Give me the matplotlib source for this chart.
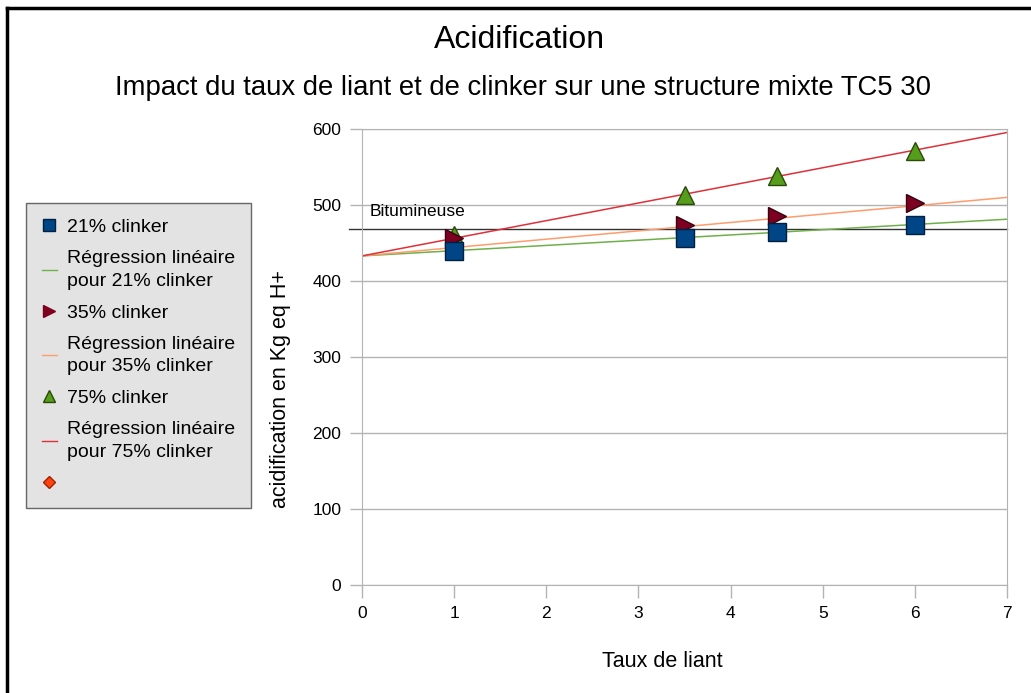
import numpy as np
import matplotlib.pyplot as plt
from matplotlib.lines import Line2D

plt.rcParams['font.family'] = ['Liberation Sans', 'DejaVu Sans']

# donnees
taux_liant = [1, 3.5, 4.5, 6]
clinker_21 = [440, 457, 464, 474]
clinker_35 = [456, 474, 485, 502]
clinker_75 = [460, 513, 538, 571]

# regressions lineaires (ordonnee a l'origine, pente)
reg_origine = 433
reg_pentes = [6.9, 11.0, 23.2]
bitumineuse = 468

x_ticks = [0, 1, 2, 3, 4, 5, 6, 7]
y_ticks = [0, 100, 200, 300, 400, 500, 600]

fig = plt.figure(figsize=(10.31, 6.93), dpi=100)
ax = fig.add_axes([362/1031, 1-585/693, 645/1031, 456/693])

ax.set_xlim(0, 7)
ax.set_ylim(0, 600)
ax.set_xticks(x_ticks)
ax.set_yticks(y_ticks)
ax.grid(axis='y', color='#b3b3b3', linewidth=1)
ax.set_axisbelow(True)
for s in ax.spines.values():
    s.set_color('#b3b3b3')
ax.tick_params(colors='#b3b3b3', labelcolor='black', labelsize=12.5, length=9, width=1, pad=6)

# ligne de reference
ax.plot([-0.14, 7], [bitumineuse, bitumineuse], color='#333333', linewidth=1, clip_on=False)
ax.text(0.08, 486, 'Bitumineuse', fontsize=12.5)

xr = np.array([0, 7])
col_reg = ['#6fb04a', '#ff9c6e', '#e0303a']
for p, c in zip(reg_pentes, col_reg):
    ax.plot(xr, reg_origine + p * xr, color=c, linewidth=1.1)

ax.plot(taux_liant, clinker_75, '^', color='#579d1c', markeredgecolor='#2a4a0a', markersize=13)
ax.plot(taux_liant, clinker_35, '>', color='#7e0021', markeredgecolor='#3a0010', markersize=13)
ax.plot(taux_liant, clinker_21, 's', color='#004586', markeredgecolor='#002040', markersize=12.5)

ax.set_xlabel('Taux de liant', fontsize=15.5)
ax.set_ylabel('acidification en Kg eq H+', fontsize=15.5)
ax.xaxis.set_label_coords(0.465, -0.145)
ax.yaxis.set_label_coords(-0.11, 0.43)

fig.text(520/1031, 1-40/693, 'Acidification', fontsize=23, ha='center', va='center')
fig.text(523/1031, 1-88/693, 'Impact du taux de liant et de clinker sur une structure mixte TC5 30',
         fontsize=19.8, ha='center', va='center')

# cadre de l'image
fig.add_artist(Line2D([7/1031, 7/1031], [0, 1-8/693], color='black', linewidth=2.5))
fig.add_artist(Line2D([7/1031, 1], [1-8/693, 1-8/693], color='black', linewidth=2.5))

handles = [
    Line2D([], [], marker='s', linestyle='', color='#004586', markeredgecolor='#002040', markersize=9),
    Line2D([], [], color=col_reg[0], linewidth=1),
    Line2D([], [], marker='>', linestyle='', color='#7e0021', markersize=9),
    Line2D([], [], color=col_reg[1], linewidth=1),
    Line2D([], [], marker='^', linestyle='', color='#579d1c', markeredgecolor='#2a4a0a', markersize=9),
    Line2D([], [], color=col_reg[2], linewidth=1),
    Line2D([], [], marker='D', linestyle='', color='#ff420e', markeredgecolor='#a02000', markersize=6),
]
labels = ['21% clinker', 'Régression linéaire\npour 21% clinker', '35% clinker',
          'Régression linéaire\npour 35% clinker', '75% clinker',
          'Régression linéaire\npour 75% clinker', '']
leg = fig.legend(handles, labels, loc='upper left', bbox_to_anchor=(26/1031, 1-203/693),
                 fontsize=14, frameon=True, fancybox=False, facecolor='#dcdcdc',
                 edgecolor='#444444', handlelength=0.8, handletextpad=0.5,
                 labelspacing=0.72, borderpad=0.8, borderaxespad=0)
for t in leg.get_texts():
    t.set_linespacing(1.45)
leg.get_frame().set_linewidth(1)

fig.savefig('out.png', dpi=100)
